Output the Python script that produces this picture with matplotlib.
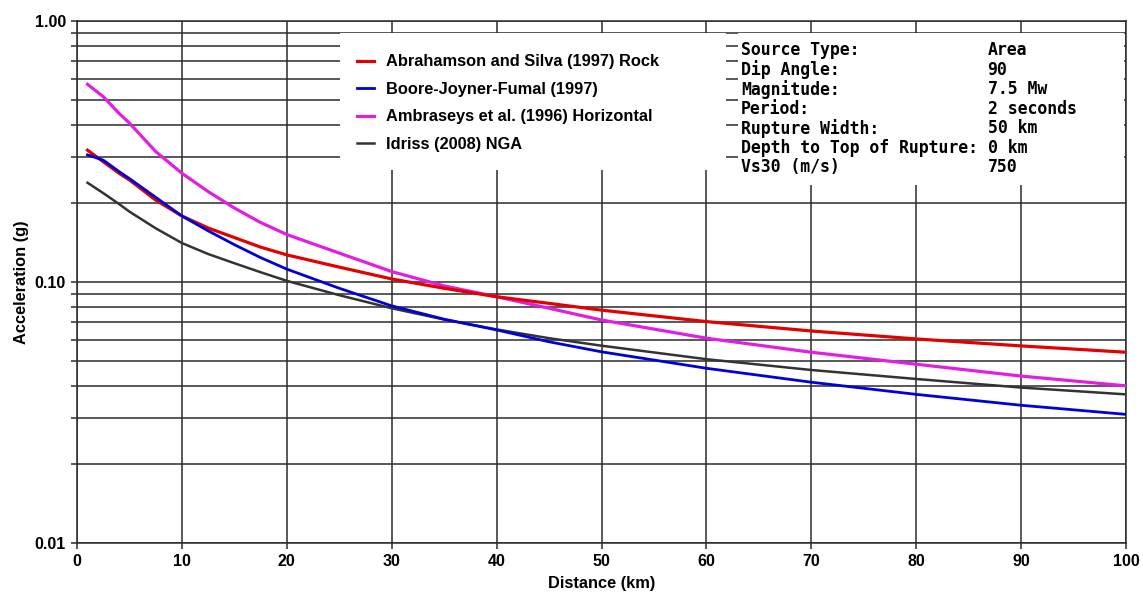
import numpy as np
import matplotlib.pyplot as plt
from matplotlib.patches import Rectangle
from matplotlib.ticker import FixedLocator, NullFormatter

# distances (km)
dist = [1, 2.5, 4, 5, 7.5, 10, 12.5, 15, 17.5, 20, 25, 30, 35, 40, 45, 50, 60, 70, 80, 90, 100]

# spectral acceleration (g)
abrahamson = [0.320, 0.289, 0.261, 0.246, 0.206, 0.179, 0.161, 0.148, 0.136, 0.127, 0.114,
              0.1027, 0.0946, 0.0878, 0.0828, 0.078, 0.0705, 0.0649, 0.0605, 0.0569, 0.0538]
boore = [0.307, 0.293, 0.265, 0.249, 0.211, 0.179, 0.157, 0.139, 0.124, 0.112, 0.0946,
         0.081, 0.072, 0.0655, 0.059, 0.054, 0.0467, 0.0413, 0.0371, 0.0337, 0.0311]
ambraseys = [0.572, 0.513, 0.443, 0.406, 0.316, 0.261, 0.222, 0.192, 0.169, 0.152, 0.129,
             0.1096, 0.0966, 0.0878, 0.0793, 0.0715, 0.0609, 0.0538, 0.0484, 0.0436, 0.040]
idriss = [0.240, 0.219, 0.199, 0.186, 0.1606, 0.141, 0.128, 0.118, 0.109, 0.101, 0.089,
          0.0793, 0.0718, 0.0658, 0.0609, 0.057, 0.0506, 0.046, 0.0425, 0.0394, 0.0371]

labels = ['Abrahamson and Silva (1997) Rock', 'Boore-Joyner-Fumal (1997)',
          'Ambraseys et al. (1996) Horizontal', 'Idriss (2008) NGA']

params = ['Source Type:', 'Dip Angle:', 'Magnitude:', 'Period:',
          'Rupture Width:', 'Depth to Top of Rupture:', 'Vs30 (m/s)']
values = ['Area', '90', '7.5 Mw', '2 seconds', '50 km', '0 km', '750']

fig = plt.figure(figsize=(11.43, 5.97), dpi=100)
ax = fig.add_axes([0.0674, 0.0905, 0.9178, 0.8743])

gcol = '#2b2b2b'
ax.set_yscale('log')
ax.set_xlim(0, 100)
ax.set_ylim(0.01, 1.0)
ax.set_xticks(np.arange(0, 101, 10))
ax.yaxis.set_major_locator(FixedLocator([0.01, 0.1, 1.0]))
minor = [m * d for d in (0.01, 0.1) for m in range(2, 10)]
ax.yaxis.set_minor_locator(FixedLocator(minor))
ax.yaxis.set_minor_formatter(NullFormatter())
ax.set_yticklabels(['0.01', '0.10', '1.00'])
ax.grid(True, which='major', color=gcol, lw=1.1)
ax.grid(True, which='minor', axis='y', color=gcol, lw=1.1)
ax.tick_params(axis='both', which='both', length=4, width=1.1, color=gcol,
               labelsize=11.5, pad=4)
for t in ax.get_xticklabels() + ax.get_yticklabels():
    t.set_fontweight('bold')
    t.set_family('Liberation Sans')
for s in ax.spines.values():
    s.set_color(gcol)
    s.set_linewidth(1.1)

ax.plot(dist, abrahamson, color='#e30000', lw=2.3, label=labels[0], zorder=5)
ax.plot(dist, boore, color='#0000d8', lw=2.0, label=labels[1], zorder=5)
ax.plot(dist, ambraseys, color='#e21ee2', lw=2.3, label=labels[2], zorder=4)
ax.plot(dist, idriss, color='#333333', lw=1.8, label=labels[3], zorder=4)

# white boxes behind legend and parameter list
ax.add_patch(Rectangle((0.2507, 0.7146), 0.368, 0.2624, transform=ax.transAxes,
                       facecolor='white', edgecolor='none', zorder=3))
ax.add_patch(Rectangle((0.630, 0.686), 0.368, 0.291, transform=ax.transAxes,
                       facecolor='white', edgecolor='none', zorder=3))

leg = ax.legend(loc='upper left', bbox_to_anchor=(0.267, 0.936), frameon=False,
                borderpad=0, borderaxespad=0, handlelength=1.0, handletextpad=0.75,
                labelspacing=0.76, prop={'family': 'Liberation Sans', 'weight': 'bold',
                                         'size': 11.8})
leg.set_zorder(6)

y0 = 0.9444
for i in range(len(params)):
    y = y0 - i * 0.0374
    ax.text(0.633, y, params[i], transform=ax.transAxes, family='DejaVu Sans Mono',
            weight='bold', fontsize=11.9, va='center', ha='left', zorder=7)
    ax.text(0.868, y, values[i], transform=ax.transAxes, family='DejaVu Sans Mono',
            weight='bold', fontsize=11.9, va='center', ha='left', zorder=7)

ax.set_xlabel('Distance (km)', family='Liberation Sans', weight='bold', fontsize=11.8,
              labelpad=5)
ax.set_ylabel('Acceleration (g)', family='Liberation Sans', weight='bold', fontsize=11.8,
              labelpad=4)

plt.savefig('out.png', dpi=100)
